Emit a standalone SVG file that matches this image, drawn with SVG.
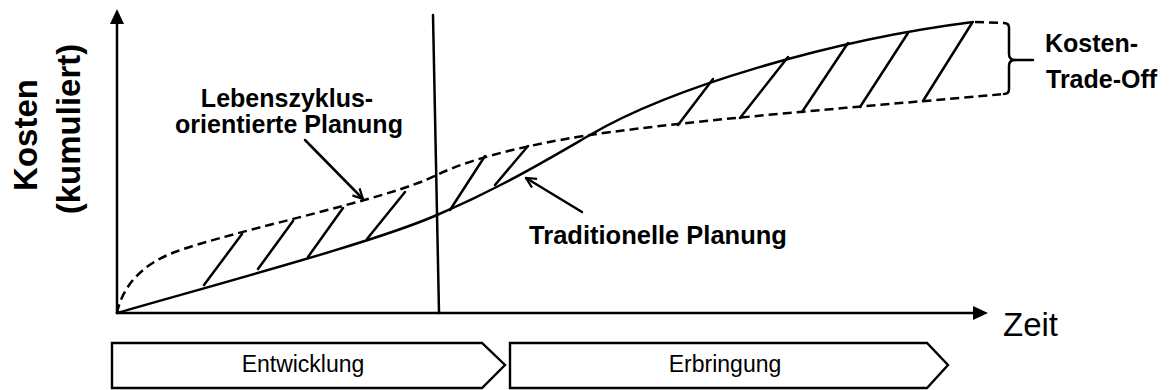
<svg xmlns="http://www.w3.org/2000/svg" width="1169" height="390" viewBox="0 0 1169 390">
<style>
.ln{fill:none;stroke:#000;stroke-width:2.5;stroke-linecap:round;stroke-linejoin:round}
.dash{fill:none;stroke:#000;stroke-width:2.5;stroke-dasharray:9 5}
.hatch{fill:none;stroke:#000;stroke-width:2.5;stroke-linecap:round}
.lbl{font-family:"Liberation Sans",Arial,sans-serif;font-weight:bold;fill:#000}
.reg{font-family:"Liberation Sans",Arial,sans-serif;fill:#000}
.box{fill:#fff;stroke:#000;stroke-width:2.4;stroke-linejoin:miter}
</style>
<defs>
<marker id="open" viewBox="0 0 12 12" refX="11" refY="6" markerWidth="12" markerHeight="12" markerUnits="userSpaceOnUse" orient="auto">
<path d="M1,1 L11,6 L1,11" fill="none" stroke="#000" stroke-width="2.2"/>
</marker>
</defs>
<rect width="1169" height="390" fill="#fff"/>
<g id="axes">
<line class="ln" x1="117" y1="313" x2="117" y2="22"/>
<polygon points="117,9 110,24 124,24" fill="#000"/>
<line class="ln" x1="117" y1="313" x2="976" y2="313"/>
<polygon points="988,313 973,306 973,320" fill="#000"/>
<line class="ln" x1="433" y1="15" x2="439" y2="313"/>
</g>
<g id="curve-traditionell">
<path class="ln" d="M117,313 C250,275 380,240 437,215 C500,188 545,161 590,135 C670,88 830,40 973,22"/>
</g>
<g id="curve-lebenszyklus">
<path class="dash" d="M117,313 C122,288 140,265 175,252 C235,230 387,200 437,175 C477,155 550,141 590,135 C700,119 870,106 1005,94"/>
</g>
<g id="hatching">
<line class="hatch" x1="204" y1="285" x2="242" y2="234"/>
<line class="hatch" x1="258" y1="269" x2="293" y2="221"/>
<line class="hatch" x1="308" y1="257" x2="343" y2="208"/>
<line class="hatch" x1="367" y1="239" x2="405" y2="192"/>
<line class="hatch" x1="450" y1="210" x2="485" y2="156"/>
<line class="hatch" x1="495" y1="185" x2="528" y2="146"/>
<line class="hatch" x1="678" y1="125" x2="713" y2="79"/>
<line class="hatch" x1="740" y1="118" x2="788" y2="57"/>
<line class="hatch" x1="802" y1="112" x2="848" y2="43"/>
<line class="hatch" x1="860" y1="107" x2="908" y2="33"/>
<line class="hatch" x1="923" y1="101" x2="972" y2="23"/>
</g>
<g id="trade-off">
<line class="dash" x1="975" y1="22" x2="1004" y2="23"/>
<path class="ln" d="M1004,23 Q1009,23 1009,28 L1009,54 Q1009,60 1015,60 Q1009,60 1009,66 L1009,89 Q1009,94 1004,94"/>
<line class="ln" x1="1015" y1="60" x2="1033" y2="60"/>
<text class="lbl" x="1045" y="52" font-size="25">Kosten-</text>
<text class="lbl" x="1046" y="88" font-size="25">Trade-Off</text>
</g>
<g id="connectors">
<line class="ln" x1="305" y1="140" x2="363" y2="199" marker-end="url(#open)"/>
<line class="ln" x1="582" y1="212" x2="526" y2="178" marker-end="url(#open)"/>
</g>
<g id="label-lebenszyklus">
<text class="lbl" x="287" y="107" font-size="25" text-anchor="middle">Lebenszyklus-</text>
<text class="lbl" x="289" y="133" font-size="25" text-anchor="middle">orientierte Planung</text>
</g>
<g id="label-traditionell">
<text class="lbl" x="658" y="244" font-size="25.5" text-anchor="middle">Traditionelle Planung</text>
</g>
<g id="y-label">
<text class="lbl" font-size="33" text-anchor="middle" transform="translate(37,135) rotate(-90)">Kosten</text>
<text class="lbl" font-size="33" text-anchor="middle" transform="translate(80,129) rotate(-90)">(kumuliert)</text>
</g>
<g id="x-label">
<text class="reg" x="1003" y="336" font-size="33">Zeit</text>
</g>
<g id="phase-entwicklung">
<path class="box" d="M112,343 L482,343 L505,365 L482,388 L112,388 Z"/>
<text class="reg" x="303" y="372" font-size="23" text-anchor="middle">Entwicklung</text>
</g>
<g id="phase-erbringung">
<path class="box" d="M510,343 L927,343 L948,365 L927,388 L510,388 Z"/>
<text class="reg" x="725" y="372" font-size="23" text-anchor="middle">Erbringung</text>
</g>
</svg>
